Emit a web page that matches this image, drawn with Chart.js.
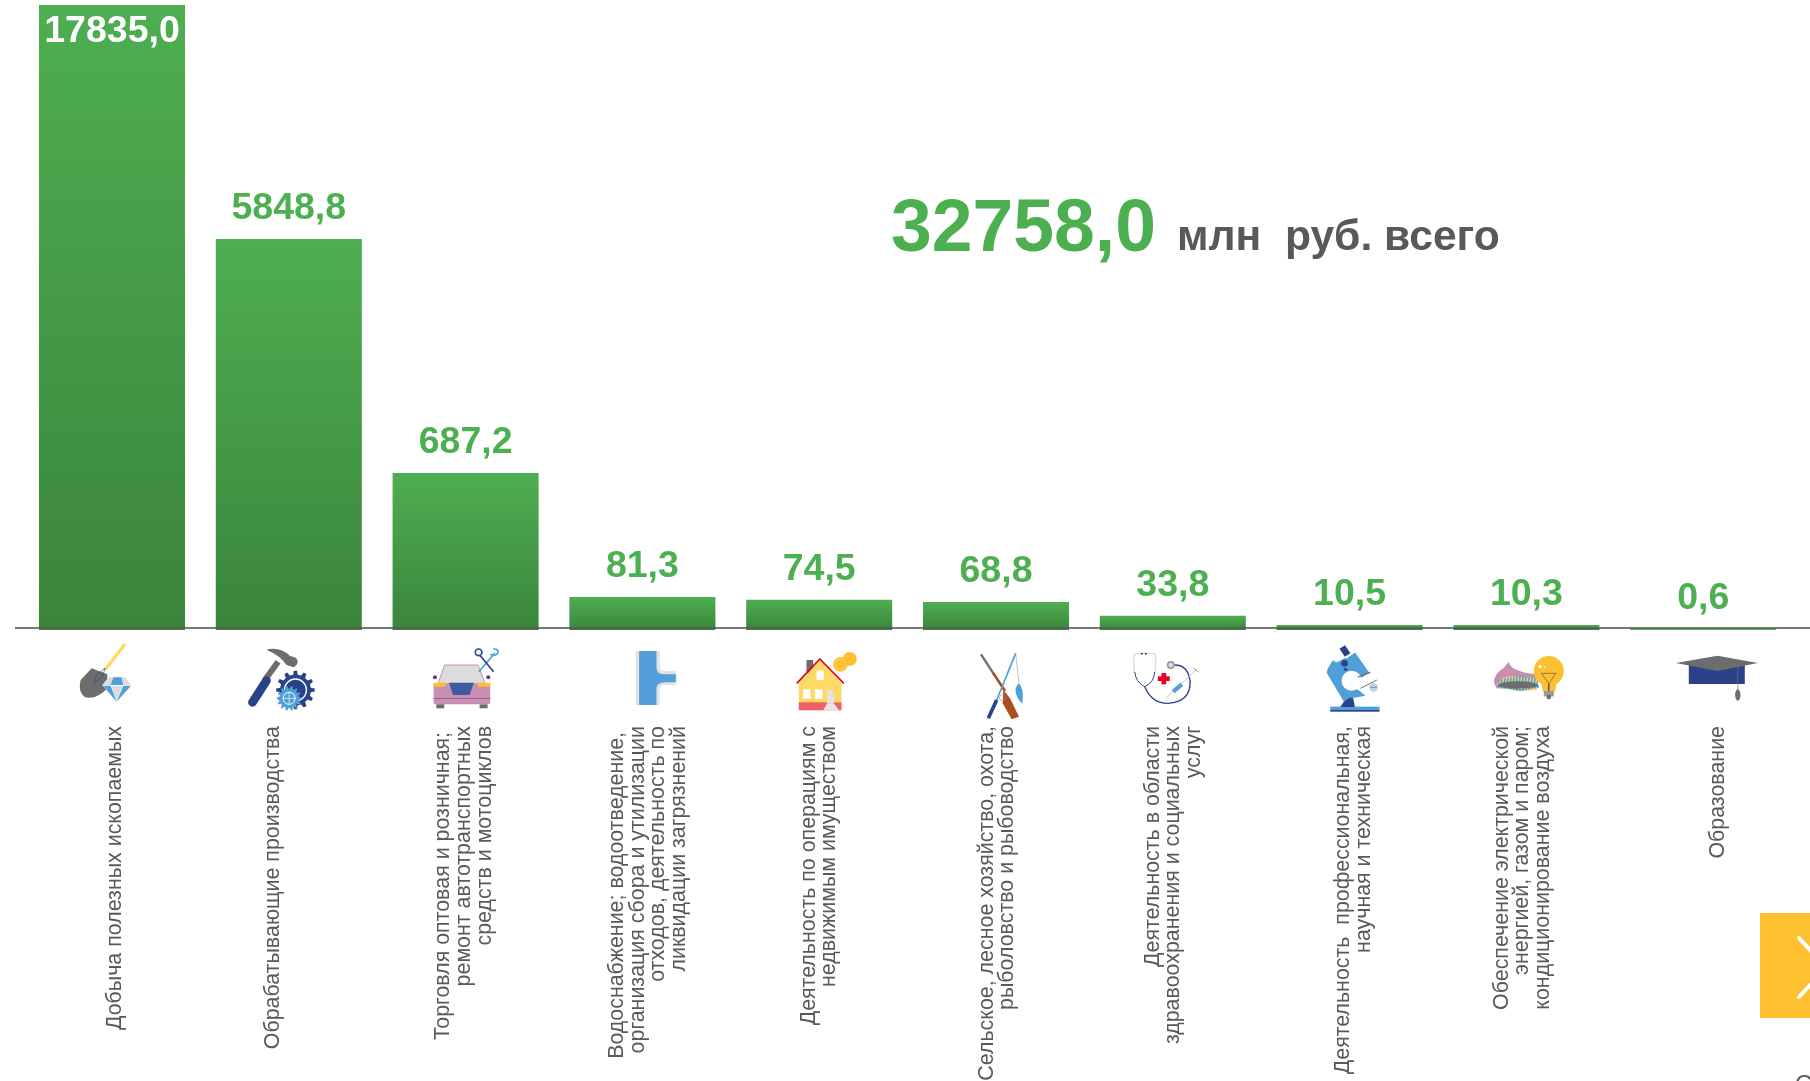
<!DOCTYPE html>
<html lang="ru">
<head>
<meta charset="utf-8">
<title>Инвестиции по видам деятельности</title>
<style>html,body{margin:0;padding:0;background:#fff;overflow:hidden}canvas{display:block}</style>
<script src="https://cdn.jsdelivr.net/npm/chart.js@4"></script>
</head>
<body>
<canvas id="c" width="1810" height="1081"></canvas>
<script>
const categories = [
  ["Добыча полезных ископаемых"],
  ["Обрабатывающие производства"],
  ["Торговля оптовая и розничная; ", "ремонт автотранспортных", "средств и мотоциклов"],
  ["Водоснабжение; водоотведение, ", "организация сбора и утилизации", "отходов, деятельность по", "ликвидации загрязнений"],
  ["Деятельность по операциям с", "недвижимым имуществом"],
  ["Сельское, лесное хозяйство, охота,", "рыболовство и рыбоводство"],
  ["Деятельность в области", "здравоохранения и социальных", "услуг"],
  ["Деятельность  профессиональная,", "научная и техническая"],
  ["Обеспечение электрической", "энергией, газом и паром;", "кондиционирование воздуха"],
  ["Образование"]
];
const values = [17835.0, 5848.8, 687.2, 81.3, 74.5, 68.8, 33.8, 10.5, 10.3, 0.6];
const totalValue = "32758,0";
const totalCaption = "млн  руб. всего";

/* The source axis is hidden and compressed: value -> share of the plot height */
const axisValues = [0, 10.5, 81.3, 687.2, 5848.8, 17835];
const axisShares = [0, 0.008, 0.0528, 0.2512, 0.6256, 1];

/* Hand-placed label columns in the source: shift of each label from its tick */
const labelShift = [3, -16, -22, -25, -10.4, -9, -20, -6, -24.6, 14.6];

const GREEN = "#4caf50", GREY = "#595959", NAVY = "#2a4388", BLUE = "#4f9fd9", AMBER = "#fdc02f",
      DGREY = "#6d6d6d", LGREY = "#dcdcdc", PINK = "#c98fb0", SAND = "#ffd966";

class KnotScale extends Chart.LinearScale {
  static id = "knots";
  getPixelForValue(v) {
    let i = 1;
    while (i < axisValues.length - 1 && v > axisValues[i]) i++;
    const t = (v - axisValues[i - 1]) / (axisValues[i] - axisValues[i - 1]);
    const share = axisShares[i - 1] + t * (axisShares[i] - axisShares[i - 1]);
    return this.getPixelForDecimal(share);
  }
  getValueForPixel(p) {
    const s = this.getDecimalForPixel(p);
    let i = 1;
    while (i < axisShares.length - 1 && s > axisShares[i]) i++;
    const t = (s - axisShares[i - 1]) / (axisShares[i] - axisShares[i - 1]);
    return axisValues[i - 1] + t * (axisValues[i] - axisValues[i - 1]);
  }
}
class ShiftedCategoryScale extends Chart.CategoryScale {
  static id = "shiftedCategory";
  _computeLabelItems(area) {
    const items = super._computeLabelItems(area);
    items.forEach((it, i) => { it.options.translation[0] += labelShift[i]; });
    return items;
  }
}
Chart.register(KnotScale, ShiftedCategoryScale);

/* ---------- icon helpers: each icon is authored at 3 units per pixel ---------- */
function line(c, pts, col, w, cap) {
  c.beginPath(); c.strokeStyle = col; c.lineWidth = w; c.lineCap = cap || "butt"; c.lineJoin = "round";
  pts.forEach((p, i) => i ? c.lineTo(p[0], p[1]) : c.moveTo(p[0], p[1])); c.stroke();
}
function poly(c, pts, col) {
  c.beginPath(); c.fillStyle = col;
  pts.forEach((p, i) => i ? c.lineTo(p[0], p[1]) : c.moveTo(p[0], p[1])); c.closePath(); c.fill();
}
function svg(c, d, col) { c.fillStyle = col; c.fill(new Path2D(d)); }
function stroke(c, d, col, w) { c.strokeStyle = col; c.lineWidth = w; c.lineCap = "round"; c.lineJoin = "round"; c.stroke(new Path2D(d)); }
function dot(c, x, y, r, col) { c.beginPath(); c.fillStyle = col; c.arc(x, y, r, 0, Math.PI * 2); c.fill(); }
function gear(c, x, y, r, teeth, col) {
  c.beginPath(); c.fillStyle = col;
  const st = Math.PI * 2 / teeth;
  for (let i = 0; i < teeth; i++) {
    const a = i * st;
    [[-.28, r * .8], [-.16, r], [.16, r], [.28, r * .8]].forEach(q => {
      const ang = a + q[0] * st;
      c.lineTo(x + q[1] * Math.cos(ang), y + q[1] * Math.sin(ang));
    });
  }
  c.closePath(); c.fill();
}
const icons = [
  { ox: -42, oy: 5, draw(c) {
      line(c, [[165, 27], [105, 105]], SAND, 10);
      svg(c, "M65 100 L112 118 L112 160 Q80 195 45 187 Q22 170 32 135 Z", DGREY);
      stroke(c, "M105 100 L98 122 L72 148 L78 122 Z", NAVY, 2);
      poly(c, [[118, 125], [165, 125], [185, 150], [140, 203], [97, 150]], "#fff");
      poly(c, [[118, 127], [130, 127], [122, 150], [99, 150]], LGREY);
      poly(c, [[130, 127], [155, 127], [160, 150], [122, 150]], BLUE);
      poly(c, [[155, 127], [165, 127], [183, 150], [160, 150]], LGREY);
      poly(c, [[99, 152], [122, 152], [140, 200]], BLUE);
      poly(c, [[124, 152], [158, 152], [140, 198]], LGREY);
      poly(c, [[160, 152], [183, 152], [140, 200]], BLUE);
  }},
  { ox: -219, oy: 5, draw(c) {
      line(c, [[585, 135], [625, 80]], DGREY, 18);
      line(c, [[548, 202], [590, 137]], NAVY, 26, "round");
      svg(c, "M590 44 Q630 34 660 62 L678 68 Q692 82 672 97 L650 90 Q632 62 590 44 Z", DGREY);
      gear(c, 677, 165, 58, 12, NAVY);
      c.beginPath(); c.strokeStyle = "#fff"; c.lineWidth = 4; c.arc(677, 165, 33, 0, 7); c.stroke();
      dot(c, 677, 165, 24, NAVY);
      gear(c, 658, 190, 37, 14, BLUE);
      c.beginPath(); c.strokeStyle = "#fff"; c.lineWidth = 3; c.arc(658, 190, 18, 0, 7); c.stroke();
      line(c, [[640, 190], [676, 190]], "#fff", 2); line(c, [[658, 172], [658, 208]], "#fff", 2);
  }},
  { ox: -396, oy: 5, draw(c) {
      dot(c, 1096, 127, 6, "#6a2d8f"); dot(c, 1256, 127, 6, "#6a2d8f");
      svg(c, "M1125 90 L1225 90 L1248 147 L1105 147 Z", LGREY);
      stroke(c, "M1105 147 L1125 90 L1225 90 L1248 147", PINK, 3);
      c.fillStyle = "#ddb7cc"; c.fillRect(1100, 208, 24, 2);
      svg(c, "M1092 145 H1262 V200 Q1262 208 1254 208 H1100 Q1092 208 1092 200 Z", PINK);
      c.fillStyle = DGREY; c.fillRect(1100, 208, 24, 12); c.fillRect(1230, 208, 24, 12);
      c.fillStyle = AMBER; c.fillRect(1092, 143, 36, 12); c.fillRect(1225, 143, 36, 12);
      poly(c, [[1138, 143], [1213, 143], [1200, 180], [1150, 180]], "#3f5ca0");
      c.fillStyle = "#7a4aa0"; c.fillRect(1092, 189, 170, 2);
      line(c, [[1228, 110], [1275, 55]], BLUE, 5);
      stroke(c, "M1272 42 Q1290 42 1284 55 Q1274 66 1264 58", BLUE, 5);
      line(c, [[1272, 110], [1232, 62]], NAVY, 5);
      c.beginPath(); c.strokeStyle = NAVY; c.lineWidth = 5; c.arc(1227, 52, 10, 0, 7); c.stroke();
  }},
  { ox: -22.6, oy: 5, draw(c) {
      c.fillStyle = "#e2e2e2"; c.fillRect(48, 48, 72, 162);
      svg(c, "M118 92 Q120 108 135 108 L170 108 L170 150 L135 150 Q120 150 118 166 Z", "#e2e2e2");
      c.fillStyle = "#529fd9"; c.fillRect(58, 48, 52, 162);
      svg(c, "M108 95 Q110 118 135 118 L168 118 L168 142 L135 142 Q110 142 108 165 Z", "#529fd9");
  }},
  { ox: -199.4, oy: 5, draw(c) {
      c.fillStyle = DGREY; c.fillRect(560, 75, 20, 40);
      poly(c, [[537, 145], [600, 75], [665, 145], [665, 225], [537, 225]], SAND);
      c.fillStyle = "#ef6066"; c.fillRect(537, 202, 128, 24);
      c.fillStyle = "#e2e2e2"; c.fillRect(622, 165, 20, 40);
      poly(c, [[622, 205], [642, 205], [658, 226], [610, 226]], "#e6e6e6");
      c.fillStyle = "#fff"; c.fillRect(590, 107, 22, 28); c.fillRect(550, 163, 22, 28); c.fillRect(586, 163, 22, 28);
      line(c, [[531, 145], [600, 72], [672, 145]], "#e3001b", 5);
      dot(c, 690, 72, 21, AMBER); dot(c, 662, 88, 22, AMBER);
      c.beginPath(); c.strokeStyle = SAND; c.lineWidth = 2; c.arc(662, 88, 16, 0, 7); c.stroke();
  }},
  { ox: -376, oy: 5, draw(c) {
      line(c, [[1083, 58], [1122, 118]], DGREY, 7);
      line(c, [[1120, 115], [1155, 168]], "#a9501f", 8);
      svg(c, "M1150 165 L1170 190 L1197 245 L1175 253 L1148 205 Z", "#a9501f");
      line(c, [[1105, 250], [1130, 195]], NAVY, 11);
      line(c, [[1130, 195], [1187, 55]], BLUE, 5);
      line(c, [[1187, 55], [1197, 145]], "#888", 1.5);
      svg(c, "M1197 145 Q1212 165 1208 190 L1207 206 L1197 195 Q1184 175 1187 160 Q1190 150 1197 145 Z", BLUE);
      c.beginPath(); c.strokeStyle = "#999"; c.lineWidth = 2; c.arc(1147, 188, 9, 0, 7); c.stroke();
  }},
  { ox: -53, oy: 5, draw(c) {
      stroke(c, "M43 112 L42 66 Q42 55 52 55 L98 55 Q108 55 108 66 L106 112", LGREY, 4);
      stroke(c, "M45 112 Q48 142 75 155 Q105 140 104 112", NAVY, 3);
      stroke(c, "M75 155 Q95 205 145 205 Q212 200 211 140 Q205 90 165 90", NAVY, 4);
      dot(c, 66, 56, 3, NAVY); dot(c, 78, 56, 3, NAVY);
      dot(c, 153, 90, 12, "#999"); dot(c, 153, 90, 7, "#ddd");
      c.fillStyle = "#e8002a"; c.fillRect(114, 124, 36, 14); c.fillRect(125, 114, 14, 34);
      line(c, [[140, 188], [232, 102]], "#c8c8c8", 3);
      line(c, [[160, 170], [186, 148]], BLUE, 13);
      line(c, [[220, 98], [236, 112]], "#999", 3);
  }},
  { ox: -230, oy: 5, draw(c) {
      c.fillStyle = BLUE; c.fillRect(632, 215, 148, 11);
      c.fillStyle = NAVY; c.fillRect(632, 225, 148, 5);
      poly(c, [[662, 216], [682, 186], [700, 186], [706, 216]], NAVY);
      line(c, [[690, 64], [732, 124]], BLUE, 40);
      c.beginPath(); c.strokeStyle = BLUE; c.lineWidth = 36; c.lineCap = "butt";
      c.moveTo(655, 85); c.lineTo(640, 110); c.lineTo(688, 190); c.stroke();
      svg(c, "M632 92 L678 68 L708 115 L680 140 L720 168 L738 182 L695 190 L630 115 Z", BLUE);
      dot(c, 696, 137, 30, "#fff");
      line(c, [[668, 36], [684, 60]], NAVY, 20);
      dot(c, 675, 85, 10, NAVY); dot(c, 678, 103, 5, NAVY);
      line(c, [[715, 126], [752, 112]], DGREY, 4);
      line(c, [[722, 160], [772, 135]], DGREY, 3);
      dot(c, 762, 157, 13, "#b9d6ee");
      line(c, [[752, 157], [772, 157]], DGREY, 2);
  }},
  { ox: -406.6, oy: 5, draw(c) {
      svg(c, "M1122 140 Q1125 115 1150 100 L1168 80 Q1168 108 1250 118 L1250 165 L1130 160 Z", PINK);
      svg(c, "M1130 148 Q1140 120 1195 125 L1250 130 L1250 165 Q1170 175 1130 148 Z", SAND);
      for (let a = 0; a < 14; a++) {
        const x = 1135 + a * 9;
        line(c, [[x, 146], [x + 3, 122 + Math.abs(a - 7) * 1.6]], BLUE, 5);
        dot(c, x + 2, 165 - Math.abs(a - 7) * 1.7, 4, BLUE);
      }
      c.beginPath(); c.fillStyle = DGREY; c.ellipse(1195, 150, 60, 11, 0, 0, 7); c.fill();
      dot(c, 1287, 108, 45, AMBER);
      poly(c, [[1262, 135], [1312, 135], [1305, 170], [1270, 170]], AMBER);
      c.fillStyle = "#9a9a9a"; c.fillRect(1272, 168, 30, 16);
      dot(c, 1287, 186, 7, DGREY);
      line(c, [[1265, 115], [1308, 115], [1287, 146], [1265, 115]], "#555", 2);
      line(c, [[1287, 146], [1287, 168]], "#444", 4);
      dot(c, 1261, 95, 5, "#fff"); dot(c, 1274, 96, 2.5, "#fff");
  }},
  { ox: -33.4, oy: 20, draw(c) {
      c.fillStyle = NAVY; c.fillRect(57, 39, 168, 63);
      poly(c, [[18, 39], [143, 17], [264, 39], [143, 63]], DGREY);
      line(c, [[204, 46], [204, 120]], "#777", 2);
      c.beginPath(); c.fillStyle = DGREY; c.ellipse(204, 135, 8, 17, 0, 0, 7); c.fill();
  }}
];

const decorPlugin = {
  id: "decor",
  afterDatasetsDraw(chart) {
    const c = chart.ctx, x = chart.scales.x, y = chart.scales.y, base = y.getPixelForValue(0);
    const meta = chart.getDatasetMeta(0);
    c.save();
    /* axis line, running past the plot on both sides */
    c.fillStyle = GREY; c.fillRect(15, base - 2.8, 1795, 1.6);
    /* value labels */
    c.font = "bold 37.5px 'Liberation Sans'"; c.textAlign = "center"; c.textBaseline = "alphabetic";
    values.forEach((v, i) => {
      const el = meta.data[i], text = v.toFixed(1).replace(".", ",");
      const fits = el.y - 47 > 0;
      c.fillStyle = fits ? GREEN : "#fff";
      c.fillText(text, el.x, fits ? el.y - 20 : el.y + 37);
    });
    /* total */
    c.textAlign = "left";
    c.font = "bold 73.3px 'Liberation Sans'"; c.fillStyle = GREEN; c.fillText(totalValue, 891, 251);
    c.font = "bold 42.6px 'Liberation Sans'"; c.fillStyle = GREY; c.fillText(totalCaption, 1177, 250);
    /* icons */
    icons.forEach((ic, i) => {
      c.save();
      c.translate(x.getPixelForTick(i) + ic.ox, base + ic.oy);
      c.scale(1 / 3, 1 / 3);
      ic.draw(c);
      c.restore();
    });
    /* page furniture: next-slide button and a cut-off letter at the bottom edge */
    c.fillStyle = AMBER; c.fillRect(1760, 913, 50, 105);
    line(c, [[1799, 938], [1812, 952]], "#fff", 4, "round");
    line(c, [[1799, 997], [1812, 983]], "#fff", 4, "round");
    c.font = "24px 'Liberation Sans'"; c.fillStyle = GREY; c.fillText("С", 1795, 1092);
    c.restore();
  }
};

new Chart(document.getElementById("c"), {
  type: "bar",
  data: {
    labels: categories,
    datasets: [{
      data: values,
      categoryPercentage: 1,
      barPercentage: 0.826,
      minBarLength: 1.5,
      backgroundColor(ctx) {
        const chart = ctx.chart, y = chart.scales.y;
        if (!y || ctx.raw === undefined) return GREEN;
        const top = y.getPixelForValue(ctx.raw), bottom = y.getPixelForValue(0);
        if (!Number.isFinite(top) || !Number.isFinite(bottom)) return GREEN;
        const g = chart.ctx.createLinearGradient(0, top, 0, bottom);
        g.addColorStop(0, "#4fae51");
        g.addColorStop(1, "#3a853b");
        return g;
      }
    }]
  },
  options: {
    responsive: false,
    animation: false,
    layout: { padding: { left: 23.6, right: 18.4, top: 5, bottom: 0 } },
    plugins: { legend: { display: false }, tooltip: { enabled: false } },
    scales: {
      x: {
        type: "shiftedCategory",
        afterFit(s) { s.height = 451; s.paddingLeft = 0; s.paddingRight = 0; },
        grid: { display: false, drawTicks: false },
        border: { display: false },
        ticks: {
          autoSkip: false, minRotation: 90, maxRotation: 90, padding: 96,
          color: GREY,
          font: { family: "'Liberation Sans'", size: 21.4, lineHeight: "20.6px" }
        }
      },
      y: { type: "knots", min: 0, max: 17835, display: false, grid: { display: false } }
    }
  },
  plugins: [decorPlugin]
});
</script>
</body>
</html>
